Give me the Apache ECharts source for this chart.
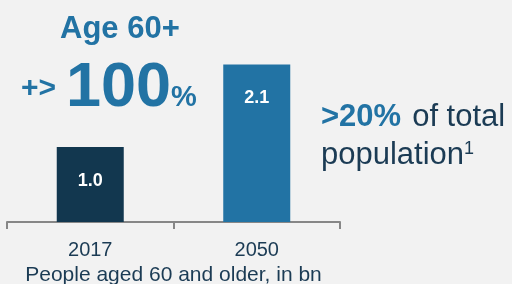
<!DOCTYPE html>
<html>
<head>
<meta charset="utf-8">
<script src="https://cdn.jsdelivr.net/npm/echarts@6/dist/echarts.min.js"></script>
<style>
  html, body { margin: 0; padding: 0; background: #f2f2f2; }
  #chart { width: 512px; height: 284px; }
</style>
</head>
<body>
<div id="chart"></div>
<script>
// data
var years = ['2017', '2050'];
var peopleBn = [1.0, 2.1];
var barColors = ['#12374f', '#2273a4'];

var chart = echarts.init(document.getElementById('chart'));

var option = {
    backgroundColor: '#f2f2f2',
    textStyle: { fontFamily: 'Liberation Sans, Arial, sans-serif' },
    grid: { left: 7, right: 172, top: 42, bottom: 62, outerBoundsMode: 'none', containLabel: false },
    xAxis: {
        type: 'category',
        data: years,
        name: 'People aged 60 and older, in bn',
        nameLocation: 'middle',
        nameGap: 43,
        nameTextStyle: { fontSize: 21, color: '#1b3b54' },
        axisLine: { lineStyle: { color: '#878787', width: 2 } },
        axisTick: { show: true, length: 7, alignWithLabel: false, lineStyle: { color: '#878787', width: 2 } },
        axisLabel: { fontSize: 20, color: '#1b3b54', margin: 18 }
    },
    yAxis: {
        type: 'value',
        min: 0,
        max: 2.4,
        show: false,
        splitLine: { show: false }
    },
    series: [{
        type: 'bar',
        barWidth: 67,
        data: peopleBn.map(function (v, i) {
            return { value: v, itemStyle: { color: barColors[i] } };
        }),
        label: {
            show: true,
            position: 'insideTop',
            distance: 25,
            color: '#ffffff',
            fontSize: 18,
            fontWeight: 'bold',
            formatter: function (p) { return p.value.toFixed(1); }
        }
    }],
    graphic: [
        {
            type: 'text', left: 60, top: 14,
            style: { text: 'Age 60+', fontSize: 31, fontWeight: 'bold', fill: '#2273a4',
                     fontFamily: 'Liberation Sans' }
        },
        {
            type: 'text', left: 21, top: 74,
            style: { text: '+>', fontSize: 30, fontWeight: 'bold', fill: '#2273a4',
                     fontFamily: 'Liberation Sans' }
        },
        {
            type: 'text', left: 66, top: 57,
            style: { text: '100', fontSize: 63, fontWeight: 'bold', fill: '#2273a4',
                     fontFamily: 'Liberation Sans' }
        },
        {
            type: 'text', left: 171, top: 83,
            style: { text: '%', fontSize: 29, fontWeight: 'bold', fill: '#2273a4',
                     fontFamily: 'Liberation Sans' }
        },
        {
            type: 'text', left: 321, top: 102,
            style: {
                text: '{a|>20%}{b|of total}',
                fontFamily: 'Liberation Sans',
                rich: {
                    a: { fontSize: 31, fontWeight: 'bold', fill: '#2273a4' },
                    b: { fontSize: 31, fill: '#1b3b54', padding: [0, 0, 0, 11] }
                }
            }
        },
        {
            type: 'text', left: 321, top: 140,
            style: {
                text: '{b|population}{s|1}',
                fontFamily: 'Liberation Sans',
                rich: {
                    b: { fontSize: 31, fill: '#1b3b54' },
                    s: { fontSize: 18, fill: '#1b3b54', verticalAlign: 'top', padding: [0, 0, 12, 0] }
                }
            }
        }
    ]
};

chart.setOption(option);
</script>
</body>
</html>
